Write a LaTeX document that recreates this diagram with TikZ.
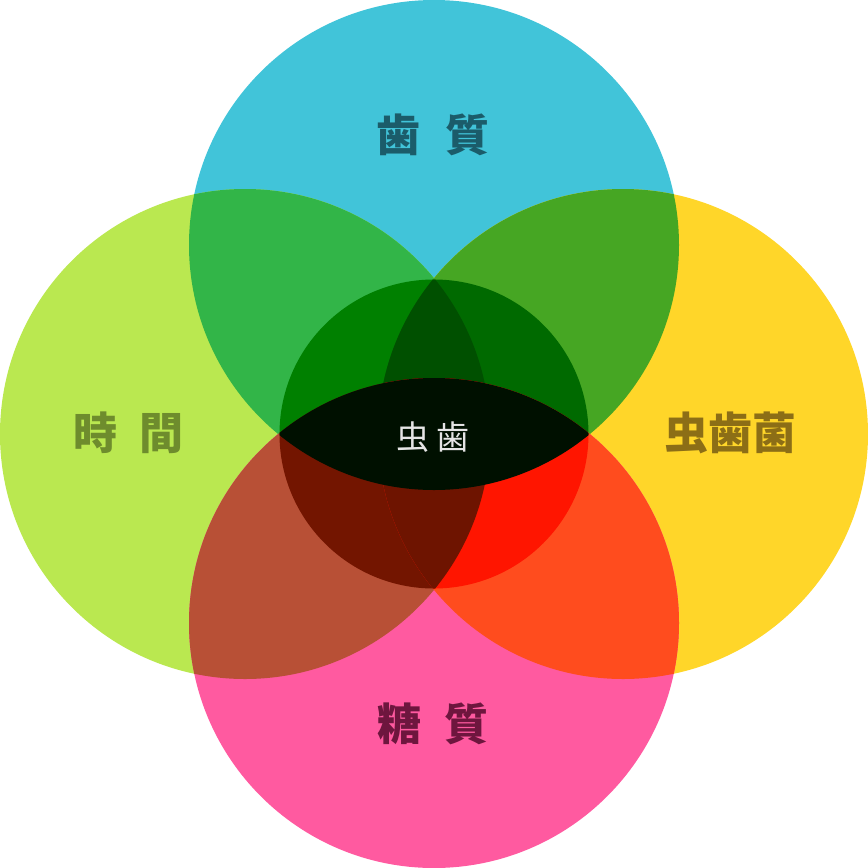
\documentclass[tikz,border=0pt]{standalone}
\usepackage{fontspec}
\newfontfamily\cjk{Noto Sans CJK JP}
\usetikzlibrary{positioning}

% colours of the single circles
\definecolor{hostc}{RGB}{65,196,217}
\definecolor{timec}{RGB}{186,232,80}
\definecolor{germc}{RGB}{255,214,41}
\definecolor{sugarc}{RGB}{255,90,160}
% colours of the overlaps
\definecolor{hosttime}{RGB}{50,181,72}
\definecolor{hostgerm}{RGB}{70,166,35}
\definecolor{sugartime}{RGB}{184,80,54}
\definecolor{sugargerm}{RGB}{255,76,30}
\definecolor{inhosttime}{RGB}{0,128,0}
\definecolor{inhostgerm}{RGB}{0,106,0}
\definecolor{inhostboth}{RGB}{0,80,0}
\definecolor{insugartime}{RGB}{115,21,0}
\definecolor{insugargerm}{RGB}{255,21,0}
\definecolor{insugarboth}{RGB}{110,20,0}
\definecolor{cariesc}{RGB}{0,16,0}

\begin{document}
\begin{tikzpicture}[
    x=1pt, y=-1pt,
    word/.style={font=\cjk\bfseries\fontsize{44}{44}\selectfont, inner sep=0pt}, % Style for circle names
    middle/.style={font=\cjk\fontsize{33}{33}\selectfont, inner sep=0pt, text=black!10}
]
\useasboundingbox (0,0) rectangle (868,868);

\def\R{245pt}   % big circles
\def\r{154.5pt} % middle circle

% Define centres
\coordinate (host)  at (434,245);
\coordinate (time)  at (245,434);
\coordinate (germ)  at (623,434);
\coordinate (sugar) at (434,623);
\coordinate (mid)   at (434,434);

% The four circles
\fill[hostc]  (host)  circle[radius=\R];
\fill[timec]  (time)  circle[radius=\R];
\fill[germc]  (germ)  circle[radius=\R];
\fill[sugarc] (sugar) circle[radius=\R];

% Overlaps of two circles
\begin{scope}
    \clip (host) circle[radius=\R];
    \fill[hosttime] (time) circle[radius=\R];
    \fill[hostgerm] (germ) circle[radius=\R];
\end{scope}
\begin{scope}
    \clip (sugar) circle[radius=\R];
    \fill[sugartime] (time) circle[radius=\R];
    \fill[sugargerm] (germ) circle[radius=\R];
\end{scope}

% Middle circle
\begin{scope}
    \clip (mid) circle[radius=\r];
    \begin{scope}
        \clip (host) circle[radius=\R];
        \fill[inhosttime] (time) circle[radius=\R];
        \fill[inhostgerm] (germ) circle[radius=\R];
        \clip (time) circle[radius=\R];
        \fill[inhostboth] (germ) circle[radius=\R];
    \end{scope}
    \begin{scope}
        \clip (sugar) circle[radius=\R];
        \fill[insugartime] (time) circle[radius=\R];
        \fill[insugargerm] (germ) circle[radius=\R];
        \clip (time) circle[radius=\R];
        \fill[insugarboth] (germ) circle[radius=\R];
    \end{scope}
    \begin{scope}
        \clip (host) circle[radius=\R];
        \fill[cariesc] (sugar) circle[radius=\R];
    \end{scope}
\end{scope}

% Labels
\node[word, text={rgb,255:red,27;green,92;blue,106}] (hostlabel) at (433,135) {歯\hspace{26pt}質};
\node[word, text={rgb,255:red,110;green,140;blue,45}] (timelabel) at (128,433) {時\hspace{22pt}間};
\node[word, text={rgb,255:red,140;green,110;blue,22}] (germlabel) at (730,433) {虫歯菌};
\node[word, text={rgb,255:red,110;green,22;blue,62}] (sugarlabel) at (433,724) {糖\hspace{24pt}質};
\node[middle] (carieslabel) at (433,437) {虫\hspace{7pt}歯};

\end{tikzpicture}
\end{document}
